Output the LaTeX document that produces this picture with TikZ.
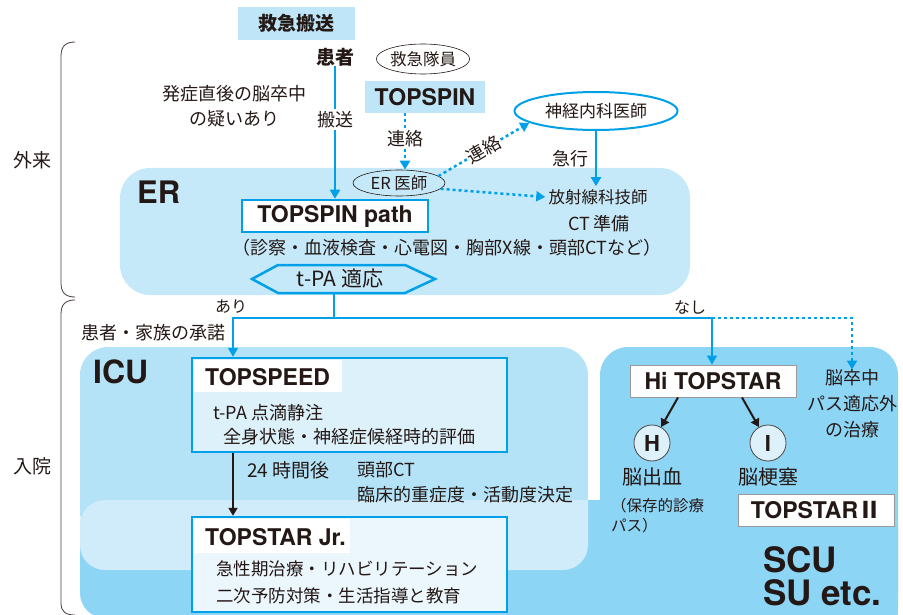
\documentclass[tikz,border=0pt]{standalone}
\usepackage{fontspec}
\setmainfont{Noto Sans CJK JP}
\newfontfamily\hel{TeX Gyre Heros}
\usetikzlibrary{arrows.meta,shapes.geometric,calc}
\definecolor{cy}{HTML}{00A0E9}
\definecolor{erfill}{HTML}{C6E9F9}
\definecolor{icufill}{HTML}{B4E3F8}
\definecolor{bandfill}{HTML}{D0ECFA}
\definecolor{scufill}{HTML}{8DD5F5}
\definecolor{boxfill}{HTML}{DDF1FB}
\definecolor{jrfill}{HTML}{EBF7FD}
\definecolor{hdfill}{HTML}{BEE6F8}
\definecolor{ink}{HTML}{231815}
\newcommand{\fs}[1]{\fontsize{#1}{#1}\selectfont}
\begin{document}
\begin{tikzpicture}[x=1pt,y=-1pt,
  every node/.style={inner sep=0pt,text=ink},
  en/.style={font={\hel\bfseries\fs{23}}},
  cyline/.style={draw=cy,line width=2.5pt},
  cyarrow/.style={cyline,-{Triangle[width=10pt,length=9pt]}},
  cydot/.style={cyarrow,dash pattern=on 3pt off 3pt},
  blkarrow/.style={draw=ink,line width=2.5pt,-{Triangle[width=9pt,length=8pt]}},
  oval/.style={ellipse,draw=ink,line width=0.6pt,inner sep=0pt},
  graybox/.style={draw=gray!80,line width=1pt,fill=white},
  cybox/.style={draw=cy,line width=2.5pt},
  hdbox/.style={fill=hdfill},
  bracket/.style={draw=ink!85,line width=0.8pt}]
\useasboundingbox (0,0) rectangle (903,615);
\clip (0,0) rectangle (903,615);

% brackets
\draw[bracket] (75,42) .. controls (66,42) and (61,46) .. (61,56) -- (61,283) .. controls (61,293) and (66,297) .. (75,297);
\draw[bracket] (75,300) .. controls (66,300) and (61,304) .. (61,314) -- (61,603) .. controls (61,612) and (66,615) .. (75,615);
\node[font={\fs{19}}] (gairai) at (32,160) {外来};
\node[font={\fs{19}}] (nyuin) at (32,466) {入院};

% regions
\fill[erfill,rounded corners=30pt] (120,168) rectangle (690,295);
\fill[scufill,rounded corners=28pt] (600,347) rectangle (898,640);
\fill[scufill,rounded corners=25pt] (80,500) rectangle (898,618);
\fill[icufill,rounded corners=28pt] (80,347) rectangle (588,540);
\fill[bandfill] (588,500) [rounded corners=25pt] -- (588,570) -- (80,570) -- (80,500) [sharp corners] -- cycle;

% top part
\node[hdbox,minimum width=117,minimum height=33,font={\fs{19}\bfseries}] (kyukyu) at (296.5,23.5) {救急搬送};
\node[font={\fs{19}\bfseries}] (kanja) at (335,57) {患者};
\node[oval,minimum width=93,minimum height=30,font={\fs{16.5}}] (kyutai) at (423,59) {救急隊員};
\node[hdbox,minimum width=120,minimum height=32,en] (topspin) at (425,97) {TOPSPIN};
\node[align=center,font={\fontsize{18}{25}\selectfont}] (hassho) at (234,106) {発症直後の脳卒中\\の疑いあり};
\node[oval,minimum width=92,minimum height=26,font={\fs{16.5}}] (erdr) at (399,183) {ER 医師};
\node[ellipse,draw=cy,line width=2pt,minimum width=163,minimum height=38,font={\fs{17}}] (neuro) at (596,111) {神経内科医師};
\node[font={\fs{16.5}},inner sep=3pt] (radtech) at (598,197) {放射線科技師};
\node[font={\fs{18}}] (ctprep) at (599,224) {CT 準備};
\node[font={\hel\bfseries\fs{31}},anchor=base west] (er) at (137,204) {ER};
\node[cybox,fill=white,minimum width=186,minimum height=32,en] (tspath) at (335,216) {TOPSPIN path};
\node[font={\fs{18}}] (exam) at (447,248) {（診察・血液検査・心電図・胸部X線・頭部CTなど）};
\draw[cyline,fill=erfill] (252,279) -- (278,265) -- (405,265) -- (435,279) -- (405,293) -- (278,293) -- cycle;
\node[font={\fs{21}}] (tpa) at (340,279) {t-PA 適応};
\coordinate (tpabot) at (334,293);
\coordinate (jl) at (233,318);
\coordinate (jr) at (712,318);
\node[font={\fs{16}}] (ari) at (231,307) {あり};
\node[font={\fs{16}}] (nashi) at (690,307) {なし};
\node[font={\fs{18}},anchor=east] (shodaku) at (226,333) {患者・家族の承諾};

% ICU
\node[font={\hel\bfseries\fs{32}},anchor=base west] (icu) at (93,383) {ICU};
\node[cybox,fill=boxfill,minimum width=315,minimum height=94] (topspeed) at (349.5,405) {};
\fill[white] (194,360) rectangle (342,392);
\node[en,anchor=west] (tsptitle) at (205,377) {TOPSPEED};
\node[font={\fs{18}},anchor=west] (tpa2) at (213,413) {t-PA 点滴静注};
\node[font={\fs{18}},anchor=west] (zenshin) at (223,437) {全身状態・神経症候経時的評価};
\node[cybox,fill=jrfill,minimum width=315,minimum height=95] (topjr) at (349.5,564.5) {};
\fill[white] (194,519) rectangle (350,553);
\node[en,anchor=west] (jrtitle) at (205,537) {TOPSTAR Jr.};
\node[font={\fs{17.5}},anchor=west] (kyusei) at (216,569) {急性期治療・リハビリテーション};
\node[font={\fs{17.5}},anchor=west] (niji) at (216,596) {二次予防対策・生活指導と教育};
\node[font={\fs{19}},anchor=west] (h24) at (247,470) {24 時間後};
\node[font={\fs{18}},anchor=west] (headct) at (357,470) {頭部CT};
\node[font={\fs{18}},anchor=west] (rinsho) at (357,495) {臨床的重症度・活動度決定};

% SCU
\node[graybox,minimum width=166,minimum height=32,en] (hitop) at (713,381) {Hi TOPSTAR};
\node[circle,draw=ink!80,line width=0.8pt,fill=boxfill,minimum size=36,font={\hel\bfseries\fs{22}}] (circH) at (652,443) {H};
\node[circle,draw=ink!80,line width=0.8pt,fill=boxfill,minimum size=36,font={\hel\bfseries\fs{22}}] (circI) at (768,443) {I};
\node[font={\fs{20}}] (nosh) at (652,477) {脳出血};
\node[font={\fs{20}}] (noko) at (768,477) {脳梗塞};
\node[font={\fontsize{15.5}{20}\selectfont},align=left,anchor=west] (hozon) at (611,516) {（保存的診療\\パス）};
\node[graybox,minimum width=156,minimum height=32,font={\fs{23}\bfseries}] (ts2) at (816,510) {{\hel TOPSTAR}Ⅱ};
\node[align=center,font={\fontsize{18}{26}\selectfont}] (nocare) at (852,404) {脳卒中\\パス適応外\\の治療};
\node[font={\hel\bfseries\fs{35}},anchor=base west] (scu) at (763,572) {SCU};
\node[font={\hel\bfseries\fs{35}},anchor=base west] (su) at (763,605) {SU etc.};

% connectors
\draw[cyarrow] (kanja.south) -- node[pos=0.4,fill=white,inner sep=2pt,font={\fs{18}}] {搬送} (kanja.south |- tspath.north);
\draw[cydot] ([xshift=-20pt]topspin.south) -- node[pos=0.45,fill=white,inner sep=2pt,font={\fs{18}}] {連絡} ([xshift=-20pt]topspin.south |- erdr.north);
\draw[cydot] (erdr.10) -- node[sloped,fill=white,inner sep=1pt,font={\fs{18}}] {連絡} (neuro.190);
\draw[cydot] (erdr.352) -- (radtech.west);
\draw[cyarrow] (neuro.south) -- node[left=6pt,font={\fs{18}}] {急行} (neuro.south |- radtech.north);
\draw[cyarrow] (tpabot) |- (jl) -- (jl |- topspeed.north);
\draw[cyarrow] (tpabot) |- (jr) -- (jr |- hitop.north);
\draw[cydot] (jr) -| (nocare.north);
\draw[blkarrow] (jl |- topspeed.south) -- (jl |- topjr.north);
\draw[blkarrow,line width=2pt] ([xshift=-35pt]hitop.south) -- (circH);
\draw[blkarrow,line width=2pt] ([xshift=29pt]hitop.south) -- (circI);
\end{tikzpicture}
\end{document}
